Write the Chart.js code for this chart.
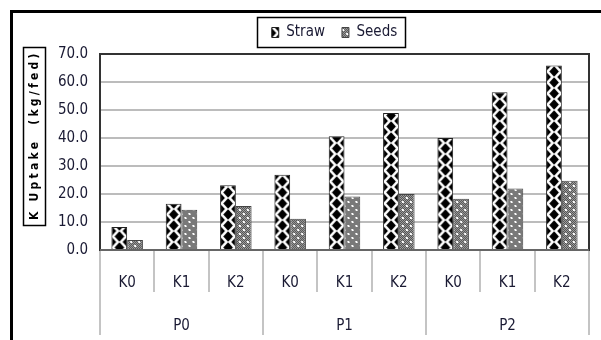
<!DOCTYPE html>
<html>
<head>
<meta charset="utf-8">
<script src="https://cdn.jsdelivr.net/npm/chart.js@4"></script>
<style>
  html, body { margin: 0; padding: 0; background: #fff; overflow: hidden; }
  #wrap { position: relative; width: 601px; height: 340px; overflow: hidden; }
  #frame { position: absolute; left: 10px; top: 10px; width: 700px; height: 400px; border: 3px solid #000; box-sizing: border-box; }
  #c { position: absolute; left: 0; top: 0; }
</style>
</head>
<body>
<div id="wrap"><div id="frame"></div><canvas id="c" width="601" height="340"></canvas></div>
<script>
// values
var groupLabels = ['P0', 'P1', 'P2'];
var kLabels = ['K0', 'K1', 'K2', 'K0', 'K1', 'K2', 'K0', 'K1', 'K2'];
var strawValues = [8.2, 16.5, 23.1, 26.9, 40.6, 48.9, 40.0, 56.3, 65.9];
var seedsValues = [3.6, 14.4, 15.7, 11.2, 19.1, 20.0, 18.3, 22.0, 24.7];
var yTicks = [0, 10, 20, 30, 40, 50, 60, 70];

var FONT = "'Liberation Sans Narrow', 'DejaVu Sans Condensed', 'Roboto', sans-serif";
var textColor = '#1a1a33';
var catPct = 0.58;

function strawTile(w) {
  var h = 11;
  var cv = document.createElement('canvas');
  cv.width = Math.max(2, Math.round(w)); cv.height = h;
  var g = cv.getContext('2d');
  var W = cv.width;
  g.fillStyle = '#fff'; g.fillRect(0, 0, W, h);
  g.fillStyle = '#000';
  function diamond(cx, cy) {
    var hw = W * 0.3, hh = h * 0.47;
    g.beginPath();
    g.moveTo(cx, cy - hh); g.lineTo(cx + hw, cy); g.lineTo(cx, cy + hh); g.lineTo(cx - hw, cy);
    g.closePath(); g.fill();
  }
  diamond(W / 2, h / 2);
  diamond(0, 0); diamond(W, 0); diamond(0, h); diamond(W, h);
  return cv;
}

function seedsTile() {
  var cv = document.createElement('canvas');
  cv.width = 8; cv.height = 8;
  var g = cv.getContext('2d');
  for (var y = 0; y < 8; y++) {
    for (var x = 0; x < 8; x++) {
      g.fillStyle = ((x + y) % 2 === 0) ? '#4a4a4a' : '#a8a8a8';
      g.fillRect(x, y, 1, 1);
    }
  }
  g.fillStyle = '#fff';
  g.fillRect(3, 1, 2, 2);
  g.fillRect(7, 5, 1, 2);
  g.fillRect(0, 5, 1, 2);
  return cv;
}

var ctx = document.getElementById('c').getContext('2d');
var seedsCanvas = seedsTile();

function barPattern(c, which) {
  var chart = c.chart;
  var xs = chart.scales && chart.scales.x;
  if (!xs || c.dataIndex === undefined || !xs.width) {
    var tile = which === 0 ? strawTile(8) : seedsCanvas;
    return chart.ctx.createPattern(tile, 'repeat');
  }
  var barW = xs.width / kLabels.length * catPct / 2;
  var center = xs.getPixelForValue(c.dataIndex);
  var left = which === 0 ? center - barW : center;
  var p = chart.ctx.createPattern(which === 0 ? strawTile(barW) : seedsCanvas, 'repeat');
  p.setTransform(new DOMMatrix([1, 0, 0, 1, left, 0]));
  return p;
}

var decorations = {
  id: 'decorations',
  afterLayout: function (chart) {
    // legend sits centred over the plot area, a little to the left, and a bit higher
    var L = chart.legend;
    var a = chart.chartArea;
    var shift = (a.left + a.right) / 2 - 10 - (L.left + L.right) / 2;
    L.left += shift;
    L.right += shift;
    L.top -= 4;
    L.bottom -= 4;
  },
  afterDraw: function (chart) {
    var g = chart.ctx;
    var a = chart.chartArea;
    var xs = chart.scales.x, xp = chart.scales.xP;
    g.save();
    // lower category table
    var n = kLabels.length;
    var catW = (xs.right - xs.left) / n;
    g.strokeStyle = '#c4c4c4';
    g.lineWidth = 2;
    for (var i = 0; i <= n; i++) {
      var bx = (i < n ? xs.getPixelForValue(i) - catW / 2 : xs.getPixelForValue(n - 1) + catW / 2);
      bx = Math.round(bx);
      var yEnd = (i % 3 === 0) ? xp.bottom - 2 : xs.bottom;
      g.beginPath(); g.moveTo(bx, a.bottom); g.lineTo(bx, yEnd); g.stroke();
    }
    // plot area frame
    g.strokeStyle = '#333';
    g.lineWidth = 2;
    g.strokeRect(a.left, a.top, a.right - a.left, a.bottom - a.top);
    g.strokeStyle = '#666';
    g.beginPath(); g.moveTo(a.left, a.bottom); g.lineTo(a.right, a.bottom); g.stroke();
    // legend frame
    var hb = chart.legend.legendHitBoxes;
    if (hb && hb.length) {
      var minX = Infinity, maxX = -Infinity, top = hb[0].top, hh = hb[0].height;
      hb.forEach(function (b) { minX = Math.min(minX, b.left); maxX = Math.max(maxX, b.left + b.width); });
      g.strokeStyle = '#000';
      g.lineWidth = 1.5;
      g.strokeRect(Math.round(minX - 15) + 0.5, Math.round(top - 8) + 0.5, Math.round(maxX - minX + 23), Math.round(hh + 15));
    }
    // y axis title in a box
    var title = 'K Uptake  (kg/fed)';
    var cx = 35, cy = (a.top + a.bottom) / 2 - 15;
    g.font = 'bold 12px ' + FONT;
    var tw = g.measureText(title).width;
    var target = 166;
    var spacing = (target - tw) / (title.length - 1);
    g.strokeStyle = '#000';
    g.lineWidth = 1.5;
    g.strokeRect(23.5, cy - 89.5, 22, 178);
    g.translate(cx, cy);
    g.rotate(-Math.PI / 2);
    g.fillStyle = '#000';
    g.textAlign = 'left';
    g.textBaseline = 'middle';
    var x = -target / 2;
    for (var k = 0; k < title.length; k++) {
      g.fillText(title[k], x, 0);
      x += g.measureText(title[k]).width + spacing;
    }
    g.restore();
  }
};

new Chart(ctx, {
  type: 'bar',
  data: {
    labels: kLabels,
    datasets: [
      {
        label: 'Straw',
        data: strawValues,
        backgroundColor: function (c) { return barPattern(c, 0); },
        borderColor: '#222',
        borderWidth: 1,
        categoryPercentage: catPct,
        barPercentage: 1
      },
      {
        label: 'Seeds',
        data: seedsValues,
        backgroundColor: function (c) { return barPattern(c, 1); },
        borderColor: '#444',
        borderWidth: 1,
        categoryPercentage: catPct,
        barPercentage: 1
      }
    ]
  },
  options: {
    responsive: false,
    animation: false,
    devicePixelRatio: 1,
    layout: { padding: { left: 0, right: 12, top: 12, bottom: 3 } },
    plugins: {
      legend: {
        position: 'top',
        labels: {
          color: textColor,
          font: { family: FONT, size: 15 },
          boxWidth: 7,
          boxHeight: 10,
          padding: 17
        }
      },
      tooltip: { enabled: false }
    },
    scales: {
      x: {
        weight: 0,
        grid: { display: false },
        border: { display: false },
        ticks: { color: textColor, font: { family: FONT, size: 15 }, padding: 16, autoSkip: false, maxRotation: 0 },
        afterFit: function (s) { s.height = 42; }
      },
      xP: {
        type: 'category',
        position: 'bottom',
        weight: 1,
        labels: groupLabels,
        offset: true,
        grid: { display: false },
        border: { display: false },
        ticks: { color: textColor, font: { family: FONT, size: 15 }, padding: 17, maxRotation: 0 },
        afterFit: function (s) { s.height = 45; }
      },
      y: {
        min: 0,
        max: 70,
        afterBuildTicks: function (s) { s.ticks = yTicks.map(function (v) { return { value: v }; }); },
        grid: { color: '#bcbcbc', lineWidth: 2, drawTicks: false },
        border: { display: false },
        ticks: {
          color: textColor,
          font: { family: FONT, size: 15 },
          padding: 12,
          callback: function (v) { return Number(v).toFixed(1); }
        },
        afterFit: function (s) { s.width = 100; }
      }
    }
  },
  plugins: [decorations]
});
</script>
</body>
</html>
